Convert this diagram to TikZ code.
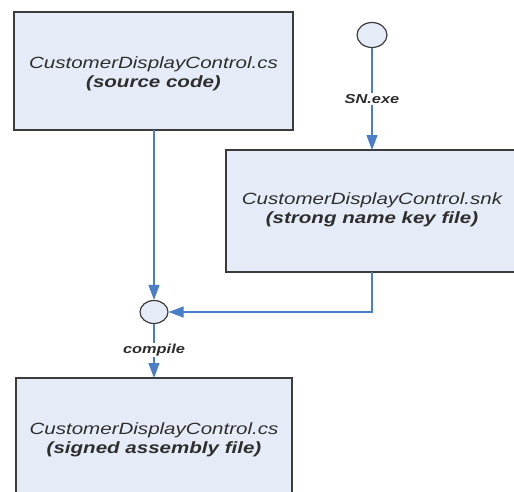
\documentclass[tikz,border=0pt]{standalone}
\usepackage{fontspec}
\setmainfont{Liberation Sans}
\usepackage{graphicx}
\usetikzlibrary{arrows.meta,shapes.geometric}
\definecolor{boxfill}{HTML}{E6ECF7}
\definecolor{boxedge}{HTML}{3C3C3C}
\definecolor{flow}{HTML}{4A7EC6}
\definecolor{txt}{HTML}{2E2E2E}
\newcommand{\widen}[1]{\scalebox{1.26}[1]{#1}}
\begin{document}
\begin{tikzpicture}[x=1pt,y=-1pt,
  filebox/.style={draw=boxedge,line width=1.4pt,fill=boxfill},
  joint/.style={draw=boxedge,line width=1.2pt,fill=boxfill,ellipse,inner sep=0pt},
  flowline/.style={draw=flow,line width=1.1pt},
  flowarrow/.style={flowline,-{Triangle[length=15pt,width=11pt]}},
  lbl/.style={fill=white,inner sep=1pt,text=txt,font=\fontsize{13}{15}\selectfont\bfseries\itshape},
  boxtext/.style={align=center,text=txt,font=\fontsize{16.3}{19}\selectfont}
]
\useasboundingbox (0,0) rectangle (514,491);
\clip (0,0) rectangle (514,491);
\fill[white] (0,0) rectangle (514,491);
% boxes
\draw[filebox] (14,12) rectangle (293,130);
\coordinate (b1) at (154,130);
\node[boxtext] (t1) at (153.5,74) {\widen{\itshape CustomerDisplayControl.cs}\\\widen{\bfseries\itshape (source code)}};
\draw[filebox] (226,150) rectangle (520,272);
\coordinate (b2top) at (372,150);
\coordinate (b2bot) at (372,272);
\node[boxtext] (t2) at (372,210) {\widen{\itshape CustomerDisplayControl.snk}\\\widen{\bfseries\itshape (strong name key file)}};
\draw[filebox] (16,378) rectangle (292,505);
\coordinate (b3top) at (154,378);
\node[boxtext] (t3) at (154,440) {\widen{\itshape CustomerDisplayControl.cs}\\\widen{\bfseries\itshape (signed assembly file)}};
% joints
\node[joint,minimum width=30pt,minimum height=25pt] (c1) at (372,35) {};
\node[joint,minimum width=28pt,minimum height=23pt] (c2) at (154,312) {};
% connectors
\draw[flowarrow] (c1.south) -- node[lbl] {\widen{SN.exe}} (b2top);
\draw[flowarrow] (b1) -- (c2.north);
\draw[flowarrow] (b2bot) |- (c2.east);
\draw[flowarrow] (c2.south) -- node[lbl,yshift=1pt] {\widen{compile}} (b3top);
\end{tikzpicture}
\end{document}
